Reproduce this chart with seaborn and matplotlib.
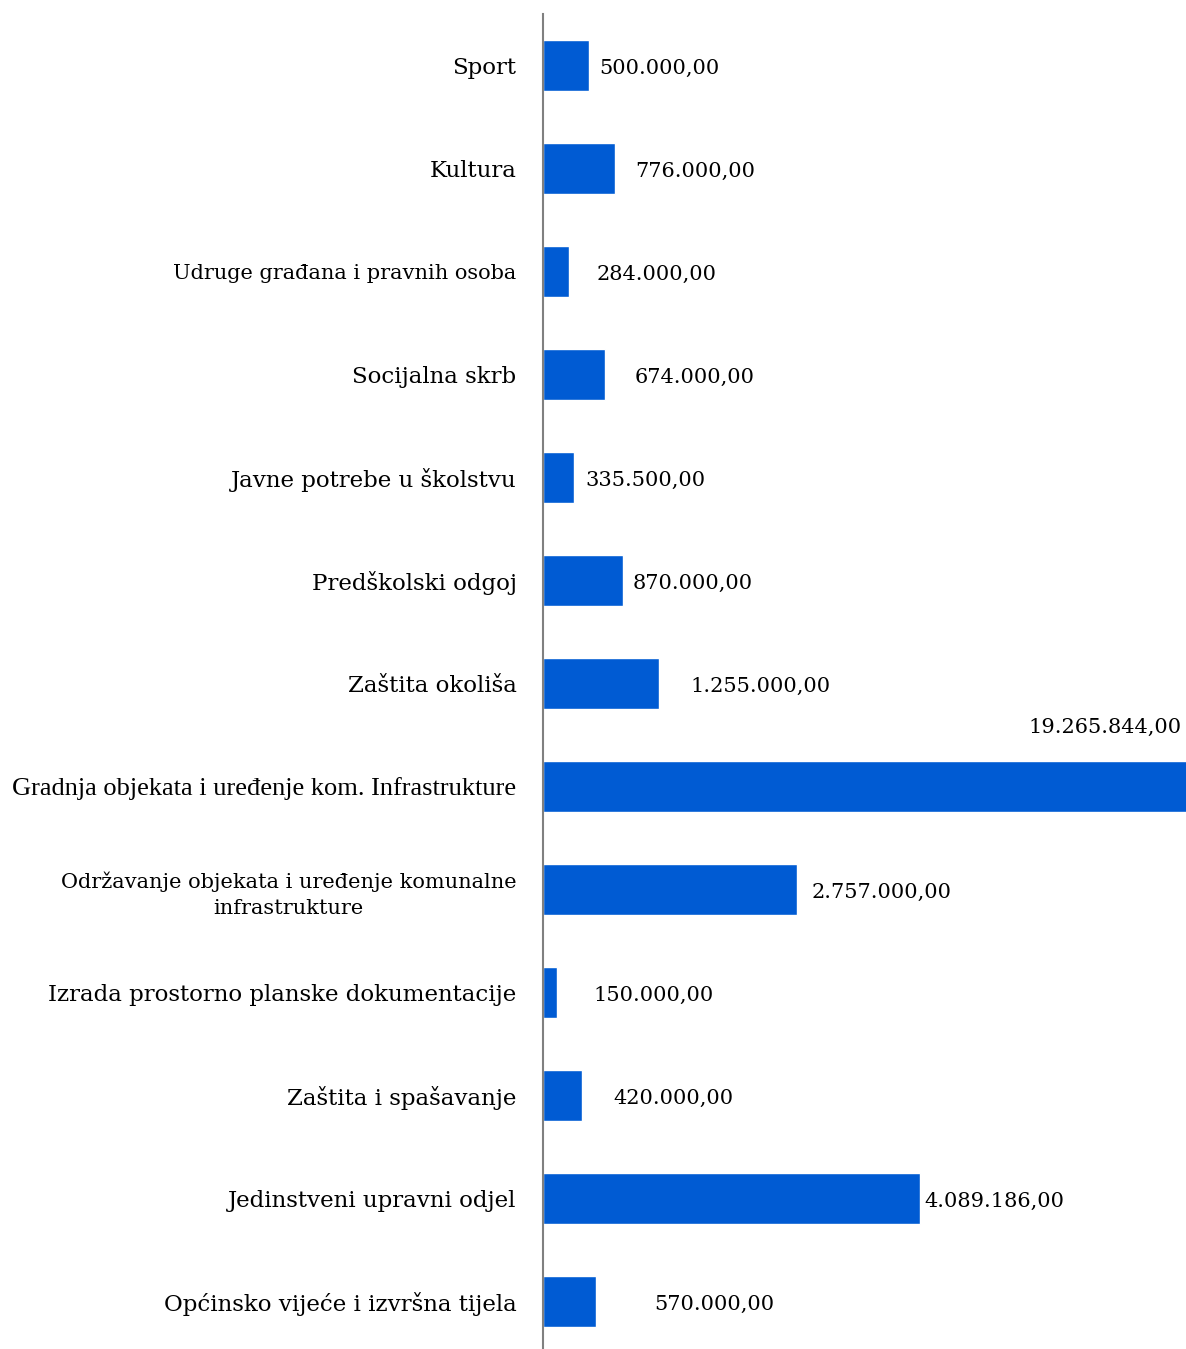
import seaborn as sns
import pandas as pd
import matplotlib.pyplot as plt

categories = [
    'Sport',
    'Kultura',
    'Udruge građana i pravnih osoba',
    'Socijalna skrb',
    'Javne potrebe u školstvu',
    'Predškolski odgoj',
    'Zaštita okoliša',
    'Gradnja objekata i uređenje kom. Infrastrukture',
    'Održavanje objekata i uređenje komunalne\ninfrastrukture',
    'Izrada prostorno planske dokumentacije',
    'Zaštita i spašavanje',
    'Jedinstveni upravni odjel',
    'Općinsko vijeće i izvršna tijela',
]
amounts = [500000.00, 776000.00, 284000.00, 674000.00, 335500.00, 870000.00,
           1255000.00, 19265844.00, 2757000.00, 150000.00, 420000.00,
           4089186.00, 570000.00]

# gap between bar end and its label (px), like the original layout
label_pad = [10, 21, 27, 29, 11, 9, 32, 0, 14, 37, 32, 4, 59]


def fmt(v):
    s = '{:,.2f}'.format(v)
    return s.replace(',', 'X').replace('.', ',').replace('X', '.')


df = pd.DataFrame({'kategorija': categories, 'iznos': amounts})

sns.set_style('white')
plt.rcParams['font.family'] = ['DejaVu Serif']
plt.rcParams['text.color'] = 'black'
plt.rcParams['ytick.color'] = 'black'

fig = plt.figure(figsize=(11.86, 13.49), dpi=100)
ax = fig.add_axes([543 / 1186, -4 / 1349, 643 / 1186, 1339 / 1349])
sns.barplot(x='iznos', y='kategorija', data=df, color='#005BD3', width=0.5,
            saturation=1, ax=ax, orient='h')

ax.set_xlim(0, 6.97e6)
ax.set_xlabel('')
ax.set_ylabel('')
ax.set_xticks([])
for side in ['top', 'right', 'bottom']:
    ax.spines[side].set_visible(False)
ax.spines['left'].set_color('#808080')
ax.spines['left'].set_linewidth(1.5)
ax.tick_params(axis='y', length=0, pad=19, labelsize=16.5)
for lbl in ax.get_yticklabels():
    txt = lbl.get_text()
    lbl.set_multialignment('center')
    lbl.set_color('black')
    if txt.startswith('Gradnja'):
        lbl.set_family('Liberation Serif')
        lbl.set_fontsize(19)
    elif txt.startswith('Udruge') or txt.startswith('Održavanje'):
        lbl.set_fontsize(15)
        lbl.set_linespacing(1.45)

xmax = ax.get_xlim()[1]
for i, v in enumerate(amounts):
    if v > xmax:
        ax.annotate(fmt(v), xy=(xmax, i - 0.25), xytext=(-4, 24),
                    textcoords='offset pixels', ha='right', va='bottom',
                    fontsize=15, annotation_clip=False)
    else:
        ax.annotate(fmt(v), xy=(v, i), xytext=(label_pad[i], -3),
                    textcoords='offset pixels', ha='left', va='center',
                    fontsize=15)

plt.savefig('out.png', dpi=100)
